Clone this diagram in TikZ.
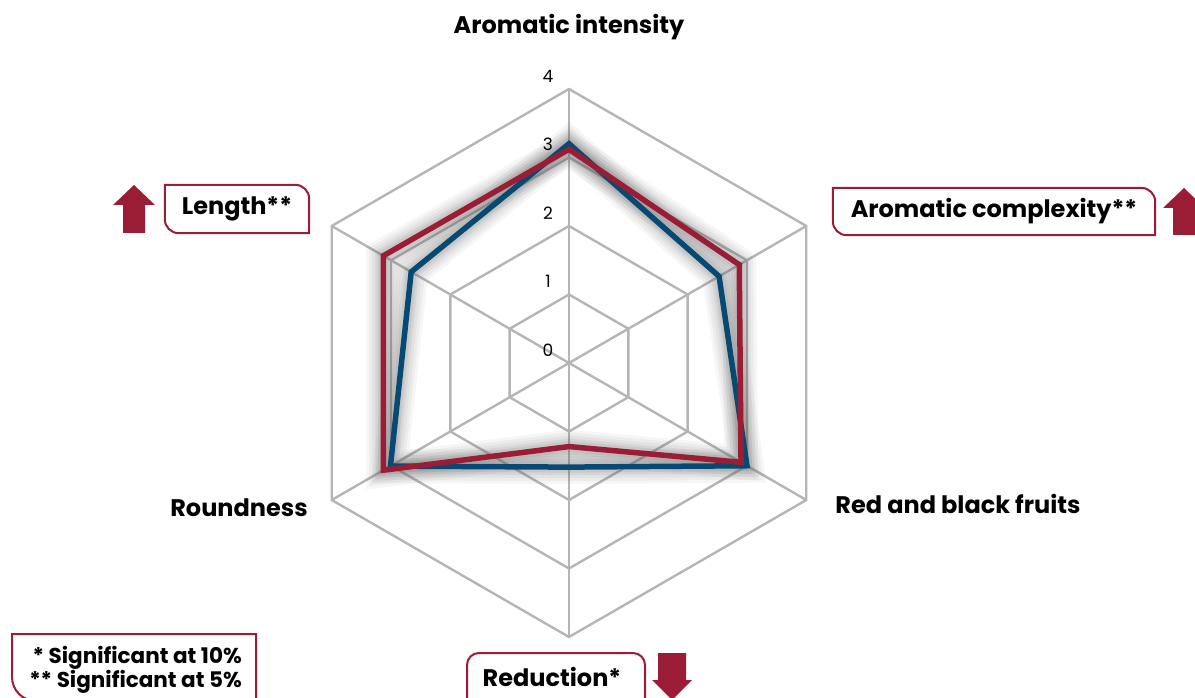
\documentclass[tikz,border=0pt]{standalone}
\usepackage{fontspec}
\setmainfont{Poppins}
\usepackage{tikz}
\usetikzlibrary{calc}

\definecolor{wine}{HTML}{9B1D35}
\definecolor{navy}{HTML}{064A73}
\definecolor{gridgray}{HTML}{B5B5B5}

\tikzset{
    gridline/.style={gridgray, line width=2.4pt},
    glow/.style={gray!80!black, line join=miter, line width=#1},
    serieline/.style={line width=5.5pt, line join=miter},
    axislabel/.style={font=\fontsize{24}{28}\selectfont\bfseries, inner sep=0pt},
    ticklabel/.style={font=\fontsize{17}{20}\selectfont, inner sep=0pt},
    tagline/.style={wine, line width=2pt},
    markarrow/.style={fill=wine, draw=none},
}

\newcommand\tagframe[1]{%
    \draw[tagline] (#1.north west) -- ([xshift=-14pt]#1.north east)
        arc[start angle=90, end angle=0, radius=14pt] -- (#1.south east)
        -- ([xshift=14pt]#1.south west)
        arc[start angle=270, end angle=180, radius=14pt] -- cycle;}

\begin{document}
\begin{tikzpicture}[x=1pt, y=1pt]
        \useasboundingbox (0,0) rectangle (1195,697);

        \begin{scope}[shift={(569,334)}]
            % web
            \foreach \l in {1,...,4}
                \draw[gridline] (90:{68.5*\l}) \foreach \k in {1,...,5}{ -- ({90-60*\k}:{68.5*\l})} -- cycle;
            \foreach \k in {0,...,5}
                \draw[gridline] (0,0) -- ({90-60*\k}:274);

            % data
            \foreach \v [count=\k from 0] in {3.2,2.53,3.0,1.52,3.01,2.66}
                \coordinate (b\k) at ({90-60*\k}:{68.5*\v});
            \foreach \v [count=\k from 0] in {3.12,2.87,2.9,1.22,3.13,3.13}
                \coordinate (r\k) at ({90-60*\k}:{68.5*\v});

            \foreach \w/\o in {34/0.06,28/0.07,22/0.08,16/0.1,11/0.12}{
                \draw[glow=\w pt, opacity=\o] (b0) -- (b1) -- (b2) -- (b3) -- (b4) -- (b5) -- cycle;
                \draw[glow=\w pt, opacity=\o] (r0) -- (r1) -- (r2) -- (r3) -- (r4) -- (r5) -- cycle;
            }

            \draw[serieline, navy] (b0) -- (b1) -- (b2) -- (b3) -- (b4) -- (b5) -- cycle;
            \draw[serieline, wine] (r0) -- (r1) -- (r2) -- (r3) -- (r4) -- (r5) -- cycle;

            \foreach \l in {0,...,4}
                \node[ticklabel] (t\l) at (-21, {68.5*\l+13}) {\l};
        \end{scope}

        % axis names
        \node[axislabel] (intensity) at (569,670) {Aromatic intensity};
        \node[axislabel] (fruits) at (958,193) {Red and black fruits};
        \node[axislabel] (roundness) at (239,189) {Roundness};

        \node[axislabel, minimum width=144pt, minimum height=48pt] (length) at (237,488) {Length**};
        \tagframe{length}
        \node[axislabel, minimum width=322pt, minimum height=47pt] (complexity) at (994,485.5) {Aromatic complexity**};
        \tagframe{complexity}

        \node[axislabel] (reduction) at (552,20) {Reduction*};
        \draw[tagline, rounded corners=12pt] (467,-30) -- (467,44) -- (645,44) -- (645,-30);

        % up / down marks
        \fill[markarrow] (123,464) -- (123,492) -- (113,492) -- (134,512) -- (155,492) -- (145,492) -- (145,464) -- cycle;
        \fill[markarrow] (1173,462) -- (1173,489) -- (1163,489) -- (1184,509) -- (1205,489) -- (1195,489) -- (1195,462) -- cycle;
        \fill[markarrow] (658,44) -- (658,17) -- (652,17) -- (672,-3) -- (692,17) -- (686,17) -- (686,44) -- cycle;

        % legend
        \node[font=\fontsize{21.5}{24}\selectfont\bfseries, align=right, anchor=north east, inner sep=0pt] (legend) at (242,51)
            {* Significant at 10\%\\** Significant at 5\%};
        \draw[tagline] (256,-30) -- (256,63) -- (12,63) -- (12,20) arc[start angle=180, end angle=270, radius=24pt];
\end{tikzpicture}
\end{document}
